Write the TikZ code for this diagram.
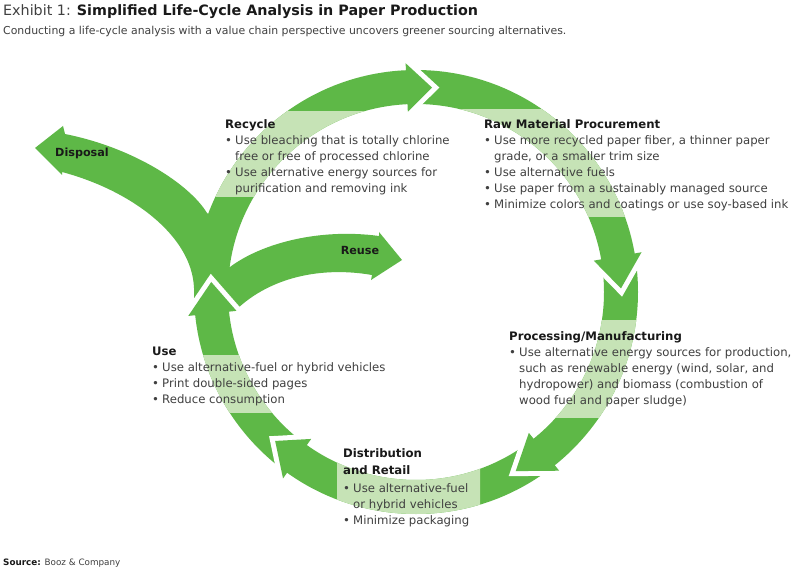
\documentclass[tikz,border=0pt]{standalone}
\usepackage{fontspec}
\setmainfont{DejaVu Sans}
\definecolor{leaf}{RGB}{94,184,71}
\definecolor{pale}{RGB}{198,227,182}
\definecolor{ink}{RGB}{64,64,64}
\definecolor{dark}{RGB}{25,25,25}
\newcommand{\bul}{\makebox[10pt][l]{\textbullet}}
\newcommand{\ind}{\hspace*{10pt}}
\newcommand{\hd}[1]{\textbf{\color{dark}#1}}
\newcommand{\lead}{\rule{0pt}{10pt}}
\newcommand{\ahead}[2]{%
  \draw[gap] (#1:229) -- (#2:205) -- (#1:180.5);
  \fill[leaf] (#1:229) -- (#2:205) -- (#1:180.5) -- cycle;}

\begin{document}
\begin{tikzpicture}[x=1pt,y=-1pt,
    blurb/.style={anchor=north west,align=left,inner sep=0pt,text=ink,font=\fontsize{11.7}{16}\selectfont},
    tag/.style={inner sep=0pt,text=dark,font=\fontsize{11.2}{14}\selectfont\bfseries},
    line/.style={anchor=base west,inner sep=0pt,text=ink},
    gap/.style={white,line width=10pt,line join=miter}]
  \useasboundingbox[fill=white] (0,0) rectangle (800,569);
  \coordinate (c) at (416,292);

  \fill[leaf,even odd rule] (c) circle[radius=222] (c) circle[radius=188];
  % disposal branch
  \fill[leaf] (207,213) .. controls (190,185) and (135,148) .. (65,134) -- (63,126) -- (35,148) -- (62,175) -- (62,172)
    .. controls (130,190) and (192,235) .. (194,288) -- (215,290) -- (225,230) -- cycle;
  % reuse branch
  \fill[leaf] (230,267) .. controls (262,243) and (320,228) .. (379,236) -- (379,232) -- (402,260) -- (371,280) -- (372,275)
    .. controls (320,266) and (270,278) .. (237,309) -- (225,300) -- (222,268) -- cycle;

  \foreach \xa/\ya/\xb/\yb in {150/112/404/197, 440/110/700/217, 420/320/700/417, 150/355/410/412, 337/430/480/569}{
    \begin{scope}
      \clip (\xa,\ya) rectangle (\xb,\yb);
      \fill[pale,even odd rule] (c) circle[radius=222] (c) circle[radius=188];
    \end{scope}}

  \begin{scope}[shift={(c)}]
    \ahead{267.4}{274.5}
    \ahead{350}{359}
    \ahead{51.3}{60.9}
    \ahead{125.5}{133.4}
    \ahead{174}{182.8}
  \end{scope}

  \node[line,font=\fontsize{14.3}{17}\selectfont] (title) at (3,16) {Exhibit 1: \hd{Simplified Life-Cycle Analysis in Paper Production}};
  \node[line,font=\fontsize{10.9}{12}\selectfont] (sub) at (3,35) {Conducting a life-cycle analysis with a value chain perspective uncovers greener sourcing alternatives.};
  \node[line,font=\fontsize{8.8}{10}\selectfont] (source) at (3,565) {\hd{Source:} Booz \& Company};

  \node[blurb] (recycle) at (225,118) {\lead\hd{Recycle}\\
    \bul Use bleaching that is totally chlorine\\
    \ind free or free of processed chlorine\\
    \bul Use alternative energy sources for\\
    \ind purification and removing ink};
  \node[blurb] (raw) at (484,118) {\lead\hd{Raw Material Procurement}\\
    \bul Use more recycled paper fiber, a thinner paper\\
    \ind grade, or a smaller trim size\\
    \bul Use alternative fuels\\
    \bul Use paper from a sustainably managed source\\
    \bul Minimize colors and coatings or use soy-based ink};
  \node[blurb] (process) at (509,330) {\lead\hd{Processing/Manufacturing}\\
    \bul Use alternative energy sources for production,\\
    \ind such as renewable energy (wind, solar, and\\
    \ind hydropower) and biomass (combustion of\\
    \ind wood fuel and paper sludge)};
  \node[blurb] (use) at (152,345) {\lead\hd{Use}\\
    \bul Use alternative-fuel or hybrid vehicles\\
    \bul Print double-sided pages\\
    \bul Reduce consumption};
  \node[blurb] (distrib) at (343,447) {\lead\hd{Distribution}\\[1pt]
    \hd{and Retail}\\[2pt]
    \bul Use alternative-fuel\\
    \ind or hybrid vehicles\\
    \bul Minimize packaging};

  \node[tag] (disposal) at (82,153) {Disposal};
  \node[tag] (reuse) at (360,250) {Reuse};
\end{tikzpicture}
\end{document}
